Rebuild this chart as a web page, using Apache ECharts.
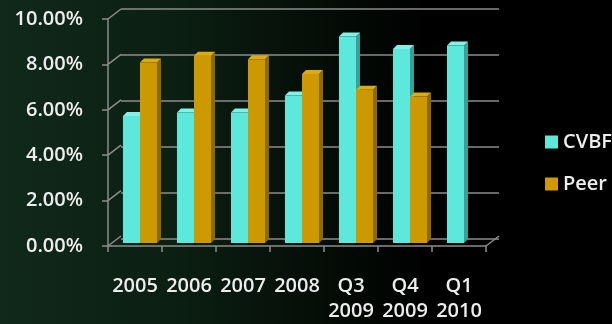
<!DOCTYPE html>
<html>
<head>
<meta charset="utf-8">
<script src="https://cdn.jsdelivr.net/npm/echarts@6/dist/echarts.min.js"></script>
<style>
  html, body { margin: 0; padding: 0; background: #000; }
  #chart { width: 612px; height: 324px; }
</style>
</head>
<body>
<div id="chart"></div>
<script>
// Yield comparison, CVBF vs peer group
const categories = ['2005', '2006', '2007', '2008', 'Q3\n2009', 'Q4\n2009', 'Q1\n2010'];
const cvbf = [5.6, 5.75, 5.75, 6.5, 9.1, 8.55, 8.7];
const peer = [7.95, 8.25, 8.1, 7.45, 6.75, 6.45, null];
const yTicks = [0, 2, 4, 6, 8, 10];

const FONT = '"Open Sans", "Liberation Sans", sans-serif';
const TEXT = '#ededed';
const LINE = '#8c8c8c';

// oblique offset of the back wall relative to the front axes
const WALL_DX = 13, WALL_DY = -10;
// bars sit a little behind the front plane
const BAR_SX = 5, BAR_SY = -3;
// bar thickness in depth
const DEP_DX = 4, DEP_DY = -4;

const palettes = [
  { front: '#5de8dc', side: '#3a9f97', top: '#7ff3e9' },
  { front: '#cc9a00', side: '#8e6a00', top: '#dcab12' }
];

function barRenderer(slot) {
  return function (params, api) {
    const v = api.value(1);
    if (v == null || isNaN(v)) return;
    const idx = api.value(0);
    const base = api.coord([idx, 0]);
    const tip = api.coord([idx, v]);
    const band = api.size([1, 0])[0];
    const w = band * 0.315;
    const x0 = base[0] - w + slot * w + BAR_SX;
    const x1 = x0 + w;
    const yB = base[1] + BAR_SY;
    const yT = tip[1] + BAR_SY;
    const c = palettes[slot];
    return {
      type: 'group',
      children: [
        { type: 'polygon', shape: { points: [[x1, yT], [x1 + DEP_DX, yT + DEP_DY], [x1 + DEP_DX, yB + DEP_DY], [x1, yB]] },
          style: { fill: c.side } },
        { type: 'polygon', shape: { points: [[x0, yT], [x0 + DEP_DX, yT + DEP_DY], [x1 + DEP_DX, yT + DEP_DY], [x1, yT]] },
          style: { fill: c.top } },
        { type: 'rect', shape: { x: x0, y: yT, width: w, height: yB - yT },
          style: { fill: c.front } }
      ]
    };
  };
}

// diagonal connectors from the front axes to the back wall
function frameRenderer(params, api) {
  const v = api.value(0);
  const band = api.size([1, 0])[0];
  const p = api.coord([0, v]);
  const xl = p[0] - band / 2;
  const children = [
    { type: 'line', shape: { x1: xl, y1: p[1], x2: xl + WALL_DX, y2: p[1] + WALL_DY },
      style: { stroke: LINE, lineWidth: 1.5 } }
  ];
  if (v === 0) {
    const q = api.coord([categories.length - 1, 0]);
    const xr = q[0] + band / 2;
    children.push({ type: 'line', shape: { x1: xr, y1: q[1], x2: xr + WALL_DX, y2: q[1] + WALL_DY },
      style: { stroke: LINE, lineWidth: 1.5 } });
  }
  return { type: 'group', children: children };
}

const chart = echarts.init(document.getElementById('chart'), null, { renderer: 'canvas' });

const front = { left: 108, right: 126, top: 19, bottom: 75 };

chart.setOption({
  backgroundColor: {
    type: 'linear', x: 0, y: 0, x2: 1, y2: 0,
    colorStops: [
      { offset: 0, color: '#10291b' },
      { offset: 0.3, color: '#0b1e12' },
      { offset: 0.55, color: '#040b06' },
      { offset: 0.7, color: '#000000' },
      { offset: 1, color: '#000000' }
    ]
  },
  animation: false,
  textStyle: { fontFamily: FONT },
  legend: {
    orient: 'vertical',
    left: 540,
    top: 127,
    icon: 'rect',
    itemWidth: 13,
    itemHeight: 13,
    itemGap: 22,
    textStyle: { color: TEXT, fontSize: 20, fontWeight: 600, fontFamily: FONT },
    data: ['CVBF', 'Peer']
  },
  grid: [
    front,
    { left: front.left + WALL_DX, right: front.right - WALL_DX, top: front.top + WALL_DY, bottom: front.bottom - WALL_DY }
  ],
  xAxis: [
    {
      type: 'category', gridIndex: 0, data: categories,
      axisLine: { lineStyle: { color: LINE, width: 1.5 } },
      axisTick: { show: true, length: 6, lineStyle: { color: LINE, width: 1.5 } },
      axisLabel: { color: TEXT, fontSize: 20, fontWeight: 600, fontFamily: FONT, margin: 28, lineHeight: 25, interval: 0 },
      splitLine: { show: false }
    },
    { type: 'category', gridIndex: 1, data: categories, show: false }
  ],
  yAxis: [
    {
      type: 'value', gridIndex: 0, min: 0, max: 10, interval: 2,
      axisLine: { show: true, lineStyle: { color: LINE, width: 1.5 } },
      axisTick: { show: true, length: 6, lineStyle: { color: LINE, width: 1.5 } },
      axisLabel: { color: TEXT, fontSize: 20, fontWeight: 600, fontFamily: FONT, margin: 25,
        formatter: function (v) { return v.toFixed(2) + '%'; } },
      splitLine: { show: false }
    },
    {
      type: 'value', gridIndex: 1, min: 0, max: 10, interval: 2,
      axisLine: { show: false }, axisTick: { show: false }, axisLabel: { show: false },
      splitLine: { show: true, lineStyle: { color: LINE, width: 1.5 } }
    }
  ],
  series: [
    {
      name: 'frame', type: 'custom', xAxisIndex: 0, yAxisIndex: 0, silent: true,
      data: yTicks.map(function (t) { return [t]; }),
      encode: { y: 0 },
      renderItem: frameRenderer, z: 1
    },
    {
      name: 'CVBF', type: 'custom', xAxisIndex: 0, yAxisIndex: 0,
      itemStyle: { color: palettes[0].front },
      data: cvbf.map(function (v, i) { return [i, v]; }),
      encode: { x: 0, y: 1 },
      renderItem: barRenderer(0), z: 3
    },
    {
      name: 'Peer', type: 'custom', xAxisIndex: 0, yAxisIndex: 0,
      itemStyle: { color: palettes[1].front },
      data: peer.map(function (v, i) { return [i, v]; }),
      encode: { x: 0, y: 1 },
      renderItem: barRenderer(1), z: 4
    }
  ]
});
</script>
</body>
</html>
